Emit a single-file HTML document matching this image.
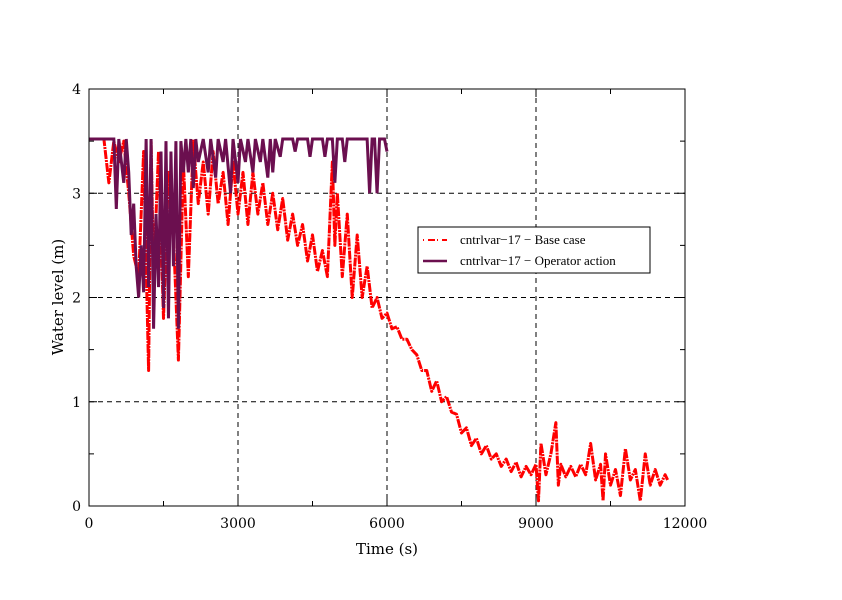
<!DOCTYPE html>
<html><head><meta charset="utf-8"><style>
body{margin:0;background:#fff}
svg text{font-family:"DejaVu Serif","Liberation Serif",serif}
svg text.leg{font-family:"Liberation Serif",serif}
</style></head><body>
<svg id="chart" width="842" height="595" xmlns="http://www.w3.org/2000/svg">
<rect width="842" height="595" fill="#fff"/>
<g id="grid"></g>
<g id="series"></g>
<rect x="89" y="89" width="596" height="417" fill="none" stroke="#000" stroke-width="1"/>
<g id="ticks"></g>
<text x="387" y="554" font-size="15" text-anchor="middle">Time (s)</text>
<text x="63" y="297" font-size="15" text-anchor="middle" transform="rotate(-90 63 297)">Water level (m)</text>
<g>
<rect x="418" y="227" width="232" height="46" fill="#fff" stroke="#000" stroke-width="1"/>
<line x1="423" y1="240" x2="447" y2="240" stroke="#ff0000" stroke-width="2" stroke-dasharray="1,4,7,2"/>
<text class="leg" x="460" y="244" font-size="13">cntrlvar−17 − Base case</text>
<line x1="423" y1="261" x2="447" y2="261" stroke="#6b0f4f" stroke-width="2.5"/>
<text class="leg" x="460" y="265" font-size="13">cntrlvar−17 − Operator action</text>
</g>
</svg>
<script>
const xTicks=[0,3000,6000,9000,12000];
const yTicks=[0,1,2,3,4];
const baseT=[0,100,200,300,400,500,600,700,800,900,1000,1100,1200,1250,1300,1400,1500,1600,1700,1800,1900,2000,2100,2200,2300,2400,2500,2600,2700,2800,2900,3000,3100,3200,3300,3400,3500,3600,3700,3800,3900,4000,4100,4200,4300,4400,4500,4600,4700,4800,4900,4950,5000,5100,5200,5300,5400,5500,5600,5700,5800,5900,6000,6100,6200,6300,6400,6500,6600,6700,6800,6900,7000,7100,7200,7300,7400,7500,7600,7700,7800,7900,8000,8100,8200,8300,8400,8500,8600,8700,8800,8900,9000,9050,9100,9200,9300,9400,9450,9500,9600,9700,9800,9900,10000,10100,10200,10300,10350,10400,10500,10600,10700,10800,10900,11000,11100,11200,11300,11400,11500,11600,11650];
const baseV=[3.52,3.52,3.52,3.52,3.1,3.5,3.3,3.5,3.0,2.4,2.2,3.4,1.3,3.5,2.2,3.4,1.8,3.2,2.6,1.4,3.3,2.2,3.5,2.9,3.3,2.8,3.4,2.9,3.2,2.7,3.3,2.8,3.2,2.7,3.2,2.8,3.1,2.7,3.0,2.65,2.95,2.55,2.8,2.5,2.7,2.35,2.6,2.25,2.45,2.2,3.3,2.5,3.0,2.2,2.8,2.0,2.6,2.0,2.3,1.9,2.0,1.8,1.85,1.7,1.72,1.6,1.6,1.5,1.45,1.3,1.3,1.1,1.2,1.0,1.05,0.9,0.88,0.7,0.75,0.58,0.65,0.5,0.58,0.45,0.5,0.38,0.45,0.33,0.42,0.28,0.38,0.3,0.4,0.05,0.6,0.3,0.5,0.8,0.2,0.4,0.28,0.38,0.28,0.4,0.3,0.6,0.25,0.4,0.05,0.5,0.2,0.35,0.1,0.55,0.25,0.35,0.05,0.5,0.2,0.35,0.2,0.3,0.25];
const opT=[0,500,550,600,700,750,800,850,900,950,1000,1050,1100,1150,1200,1250,1300,1350,1400,1450,1500,1550,1600,1650,1700,1750,1800,1850,1900,1950,2000,2050,2100,2150,2200,2300,2400,2450,2550,2600,2700,2750,2850,2900,3000,3050,3150,3200,3300,3350,3450,3500,3600,3650,3700,3750,3850,3900,4100,4150,4200,4400,4450,4500,4700,4750,4800,4900,4950,5000,5100,5150,5200,5600,5650,5700,5750,5800,5850,5950,6000];
const opV=[3.52,3.52,2.85,3.52,3.1,3.52,3.2,2.6,2.9,2.3,2.0,2.5,2.05,3.52,2.1,3.52,1.7,2.8,2.1,3.4,1.9,3.5,1.8,3.4,2.3,3.5,1.7,3.5,3.2,3.52,3.2,3.52,3.05,3.52,3.3,3.52,3.2,3.52,3.15,3.52,3.3,3.52,3.0,3.52,3.1,3.52,3.3,3.52,3.2,3.52,3.3,3.52,3.15,3.52,3.2,3.52,3.35,3.52,3.52,3.4,3.52,3.52,3.35,3.52,3.52,3.35,3.52,3.52,3.1,3.52,3.52,3.3,3.52,3.52,3.0,3.52,3.52,3.0,3.52,3.52,3.4];
const NS="http://www.w3.org/2000/svg";
const X0=89,X1=685,Y0=506,Y1=89;
const sx=t=>X0+(t-0)/12000*(X1-X0);
const sy=v=>Y0-(v-0)/4*(Y0-Y1);
function mk(tag,attrs,parent){const e=document.createElementNS(NS,tag);for(const k in attrs)e.setAttribute(k,attrs[k]);parent.appendChild(e);return e;}
const grid=document.getElementById('grid'),ticks=document.getElementById('ticks'),ser=document.getElementById('series');
xTicks.forEach((t,i)=>{
  if(i>0&&i<xTicks.length-1){const g=mk('line',{x1:sx(t),x2:sx(t),y1:Y1,y2:Y0,stroke:'#000','stroke-width':1,'stroke-dasharray':'5,4'},grid);
  
  }
  const lb=mk('text',{x:sx(t),y:Y0+22,'font-size':14,'text-anchor':'middle'},ticks);lb.textContent=t;
  
  
});
for(let t=0;t<=12000;t+=1500){const L=(t%3000===0)?8:5;
  mk('line',{x1:sx(t),x2:sx(t),y1:Y0,y2:Y0-L,stroke:'#000'},ticks);
  mk('line',{x1:sx(t),x2:sx(t),y1:Y1,y2:Y1+L,stroke:'#000'},ticks);}
yTicks.forEach((v,i)=>{
  if(i>0&&i<yTicks.length-1){const g=mk('line',{x1:X0,x2:X1,y1:sy(v),y2:sy(v),stroke:'#000','stroke-width':1,'stroke-dasharray':'5,4'},grid);
  
  }
  const lb=mk('text',{x:X0-8,y:sy(v)+5,'font-size':14,'text-anchor':'end'},ticks);lb.textContent=v;
  
  
});
for(let v=0;v<=4;v+=0.5){const L=(v%1===0)?8:5;
  mk('line',{x1:X0,x2:X0+L,y1:sy(v),y2:sy(v),stroke:'#000'},ticks);
  mk('line',{x1:X1,x2:X1-L,y1:sy(v),y2:sy(v),stroke:'#000'},ticks);}
const bp=mk('polyline',{points:baseT.map((t,i)=>sx(t)+','+sy(baseV[i])).join(' '),fill:'none',stroke:'#ff0000','stroke-width':3,'stroke-dasharray':'9,1,2,1','stroke-linejoin':'round'},ser);


const op=mk('polyline',{points:opT.map((t,i)=>sx(t)+','+sy(opV[i])).join(' '),fill:'none',stroke:'#6b0f4f','stroke-width':3},ser);


</script>
</body></html>
